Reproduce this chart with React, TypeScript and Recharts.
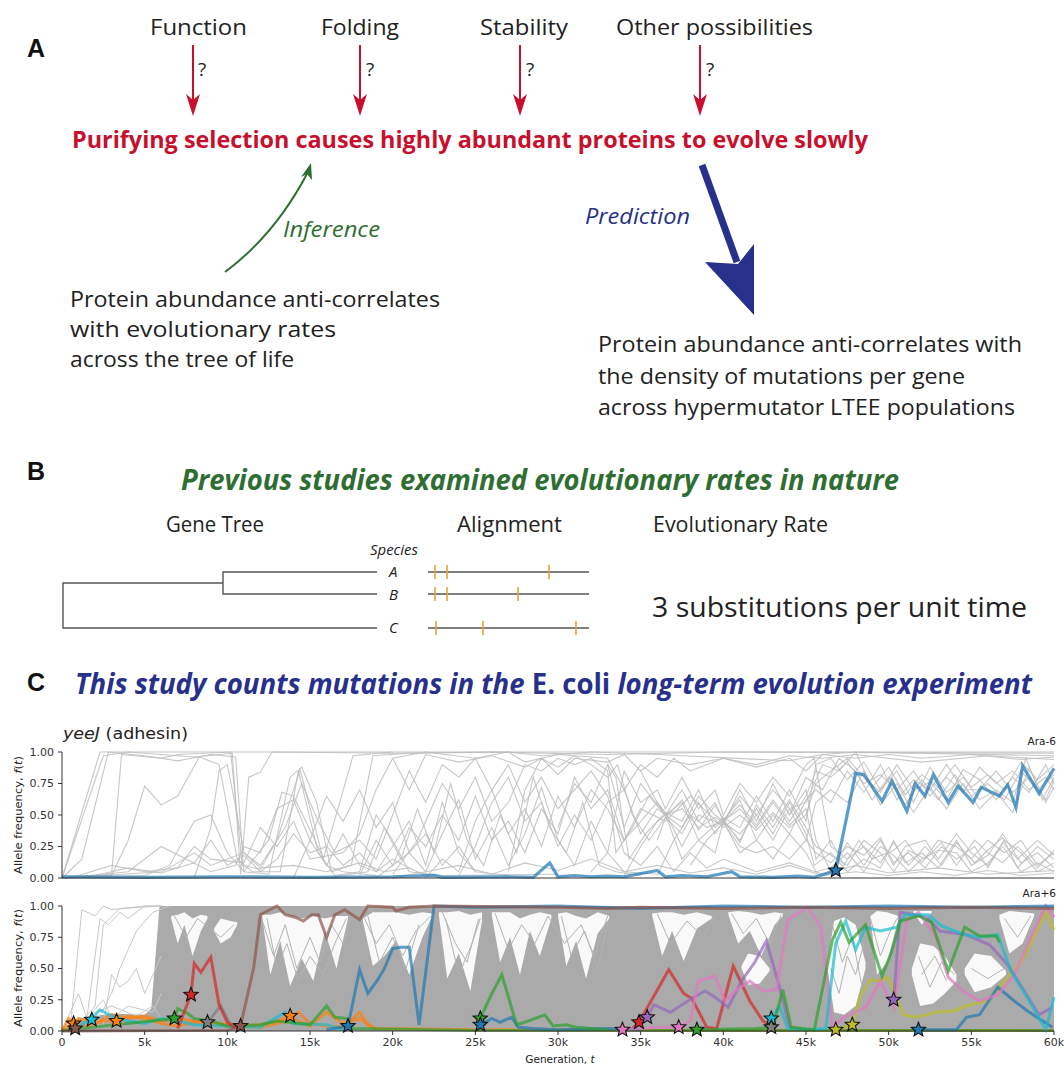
import React from "react";
import { ComposedChart, Line, Area, Scatter, XAxis, YAxis } from "recharts";

// generation ticks (thousands) and frequency ticks
const genTicks = [0, 5, 10, 15, 20, 25, 30, 35, 40, 45, 50, 55, 60];
const freqTicks = [0, 0.25, 0.5, 0.75, 1];

const C = {
  blue: "#1f77b4",
  orange: "#ff7f0e",
  green: "#2ca02c",
  red: "#d62728",
  purple: "#9467bd",
  brown: "#8c564b",
  pink: "#e377c2",
  gray: "#7f7f7f",
  olive: "#bcbd22",
  cyan: "#17becf",
};

// ---------- Ara-6 (top panel) ----------
const araM6YeeJ = [[0,0.01],[5,0.005],[10,0.01],[15,0.005],[20,0.01],[22.5,0.02],[23,0.005],[27,0.01],[28.5,0.005],[29.5,0.12],[30,0.01],[31,0.02],[32,0.01],[33,0.015],[34,0.01],[36,0.06],[36.5,0.01],[37.5,0.02],[39,0.01],[40.5,0.05],[41,0.01],[43,0.005],[44.5,0.015],[45.5,0.005],[46.8,0.06],[48,0.83],[48.5,0.82],[49.6,0.61],[50.2,0.77],[51.1,0.53],[51.6,0.75],[52.2,0.65],[52.7,0.82],[53.6,0.6],[54.2,0.73],[55.1,0.6],[55.6,0.72],[56.7,0.65],[57.2,0.74],[57.7,0.56],[58.1,0.89],[59.1,0.67],[60,0.87]];

const araM6Background = [
  [[0,0],[2.3,1],[60,1]],
  [[0,0],[2.5,0.97],[4,1],[8,0.96],[10.3,0.99],[10.8,0.03],[11.3,0.8],[12,0.84],[12.7,1],[20,0.99],[26,1],[33,0.98],[40,1],[60,0.99]],
  [[0,0],[1.2,0.15],[2.8,1],[5,0.97],[7,0.93],[9,0.98],[10.5,0.96],[11,0.05],[12.5,0.03],[13.8,0.8],[14.5,0.88],[15.4,0.6],[16.3,0.05],[17.5,0.1],[18.8,0.97],[21,0.99],[27,1],[29,0.97],[32,1],[36,0.98],[44,0.93],[46,0.98],[48,1],[60,0.97]],
  [[0,0],[3,0.02],[4,0.3],[5,0.73],[6,0.58],[7,0.65],[8.3,0.96],[9.5,0.9],[10.6,0.15],[11.5,0.05],[13.2,0.05],[14.3,0.85],[15.5,0.2],[16.5,0.02],[18,0.05],[19,0.5],[20,0.3],[21,0.05],[23,0.02],[30,0.03]],
  [[0,0],[4,0.05],[6,0.25],[7.5,0.15],[9,0.05],[10.5,0.1],[11,0.25],[12,0.2],[13,0.55],[14,0.62],[15,0.3],[16,0.1],[17,0.35],[18,0.1],[19,0.05],[21,0.45],[22,0.1],[23,0.6],[24,0.2],[25,0.05],[27,0.02]],
  [[0,0],[5,0.02],[6.5,0.1],[8,0.45],[9,0.5],[10,0.2],[11,0.05],[12.5,0.3],[13.3,0.68],[14,0.65],[15.3,0.3],[16,0.1],[17,0.05],[19,0.02]],
  [[0,0],[3,0.03],[3.6,0.98],[6,0.95],[7,0.98],[10.2,1],[10.9,0.1],[12,0.07],[13,0.3],[14.4,0.86],[15.8,0.15],[16.8,0.6],[17.6,0.97],[20,1]],
  [[0,0],[6,0.05],[7,0.12],[8,0.2],[9,0.1],[10,0.15],[11,0.2],[12,0.08],[14,0.1],[16,0.05],[18,0.12],[19.5,0.05],[21,0.08],[22,0.02]],
  [[16,0],[18.5,0.05],[19.5,0.4],[20.5,0.15],[21.5,0.55],[22.5,0.2],[23.5,0.75],[24.5,0.3],[25.5,0.1],[26.5,0.5],[27.5,0.2],[28.5,0.8],[29.5,0.4],[30.5,0.2],[31.5,0.6],[32.5,0.1],[33.5,0.05],[35,0.02]],
  [[19,0],[21,0.2],[22,0.05],[23,0.35],[24,0.62],[25,0.15],[26,0.4],[27,0.1],[28,0.35],[29,0.72],[30,0.3],[31,0.1],[32,0.45],[33,0.2],[34,0.05],[36,0.03]],
  [[20,0.03],[21.5,0.3],[23,0.75],[24,0.55],[25,0.8],[26,0.45],[27,0.6],[28,0.9],[29,0.85],[30,0.95],[31,0.9],[32,0.95],[33,0.85],[33.5,0.2],[34.5,0.4],[35.5,0.65],[36.5,0.5],[37.5,0.7],[38.5,0.45],[39.5,0.6],[40,0.45],[41,0.65],[42,0.5],[43,0.7],[44,0.55],[45,0.6],[46,0.9],[47,0.85],[48,1],[49,0.72],[50,0.88],[51,0.66],[52,0.82],[53,0.72],[54,0.9],[55,0.72],[56,0.82],[57,0.7],[58,0.92],[59,0.78],[60,0.9]],
  [[27,0.05],[28,0.7],[29,0.95],[30,0.88],[31,0.97],[32,0.9],[33,0.8],[33.6,0.9],[34.5,0.5],[35.5,0.3],[36.5,0.48],[37.5,0.35],[38.5,0.6],[39.5,0.35],[40,0.45],[41,0.3],[42,0.55],[43,0.35],[44,0.6],[45,0.35],[45.5,0.1],[46.5,0.2],[47.5,0.05],[48.5,0.15],[49.5,0.08],[50.3,0.3],[51,0.12],[52,0.2],[53,0.08],[54.1,0.3],[55,0.1],[56,0.18],[56.9,0.35],[58,0.12],[59,0.2],[60,0.08]],
  [[30,0.4],[31,0.75],[32,0.6],[33,0.9],[33.5,0.8],[34.3,0.15],[35.3,0.35],[36.5,0.52],[37.5,0.25],[38.5,0.5],[40,0.42],[41,0.7],[42,0.45],[43,0.75],[44,0.5],[45,0.8],[46,0.7],[47,0.95],[48,0.85],[49,0.62],[50,0.8],[51,0.58],[52,0.78],[53,0.62],[54,0.82],[55,0.65],[56,0.75],[57,0.62],[58,0.85],[59,0.7],[60,0.82]],
  [[32,0.05],[33,0.2],[34,0.85],[35,0.6],[36,0.7],[36.5,0.55],[37.5,0.8],[38.5,0.55],[39.5,0.7],[40,0.5],[41,0.75],[42,0.6],[43,0.8],[44,0.65],[45,0.9],[45.5,0.95],[46.5,0.25],[47.5,0.15],[48.5,0.25],[49.5,0.12],[50.3,0.28],[51.2,0.1],[52.2,0.25],[53.2,0.1],[54.1,0.28],[55.2,0.12],[56,0.22],[56.9,0.32],[57.8,0.08],[59,0.25],[60,0.15]],
  [[34,0.02],[35,0.25],[36,0.45],[36.5,0.5],[37.5,0.15],[38.5,0.3],[39.5,0.2],[40,0.45],[41,0.2],[42,0.3],[43,0.15],[44,0.35],[45,0.2],[45.6,0.05],[46.5,0.08],[47.5,0.2],[48.5,0.05],[49.5,0.25],[50.3,0.18],[51.2,0.05],[52,0.15],[53,0.22],[54.1,0.2],[55,0.05],[56,0.12],[56.9,0.25],[58,0.05],[59,0.12],[60,0.05]],
  [[33,0.9],[34,0.4],[35,0.75],[36.5,0.5],[37.5,0.6],[38.5,0.3],[40,0.48],[41,0.4],[42,0.65],[43,0.45],[44,0.7],[45,0.45],[45.6,0.9],[46.5,0.95],[47.5,0.78],[48.5,0.92],[49.5,0.7],[50.5,0.85],[51.5,0.6],[52.5,0.88],[53.5,0.68],[54.5,0.8],[55.5,0.62],[56.5,0.7],[57.5,0.6],[58.3,0.95],[59.3,0.62],[60,0.8]],
  [[36,0.02],[37,0.3],[38,0.5],[39,0.4],[40,0.45],[41,0.55],[42,0.4],[43,0.6],[44,0.42],[45,0.55],[45.6,0.15],[46.5,0.3],[47.3,0.1],[48.2,0.3],[49,0.15],[50.3,0.22],[51,0.3],[52,0.12],[53,0.3],[54.1,0.25],[55,0.15],[56,0.3],[57,0.2],[58,0.3],[59,0.1],[60,0.2]],
  [[20,0],[22,0.05],[24,0.1],[26,0.03],[28,0.12],[30,0.06],[32,0.15],[34,0.05],[36,0.1],[38,0.04],[40,0.08],[42,0.03],[44,0.1],[46,0.02],[48,0.05],[50,0.02],[52,0.05],[54,0.02],[56,0.06],[58,0.02],[60,0.04]],
  [[20,0.95],[21,0.7],[22,0.98],[24,0.92],[26,0.97],[28,0.88],[29,0.95],[30,0.82],[31,0.95],[33,0.92],[34,0.98],[35,0.85],[36,0.95],[38,0.9],[40,0.95],[42,0.88],[44,0.95],[45,0.85],[46,0.98],[48,0.95],[50,0.98],[52,0.95],[55,0.98],[58,0.94],[60,0.96]],
  [[14,0],[15,0.3],[16,0.65],[17,0.45],[18,0.7],[19,0.4],[20,0.6],[21,0.2],[22,0.35],[23,0.1],[24,0.25],[25,0.05]],
  [[22,0],[23,0.15],[24,0.05],[25,0.45],[26,0.7],[27,0.35],[28,0.55],[29,0.25],[30,0.65],[31,0.4],[32,0.7],[33,0.55],[34,0.3],[35,0.55],[36.5,0.45],[38,0.65],[40,0.4],[41,0.5],[42,0.38],[43,0.52],[44,0.4],[45,0.5],[45.6,0.75],[46.5,0.85],[47.5,0.95],[48.5,0.8],[49.5,0.68],[50.5,0.9],[51.5,0.7],[52.5,0.76],[53.5,0.62],[54.5,0.86],[55.5,0.78],[56.5,0.62],[57.5,0.8],[58.5,0.68],[59.5,0.9],[60,0.75]],
  [[44,0.5],[45,0.7],[45.6,0.3],[46.5,0.05],[47.5,0.28],[48.5,0.1],[49.5,0.3],[50.3,0.1],[51,0.25],[52.2,0.3],[53,0.15],[54.1,0.35],[55,0.2],[56,0.1],[57,0.3],[58,0.2],[59,0.05],[60,0.12]],
  [[18,0.02],[19,0.3],[20,0.1],[21,0.4],[22,0.25],[23,0.5],[24,0.3],[25,0.65],[26,0.3],[27,0.45],[28,0.2],[29,0.55],[30,0.35],[31,0.8],[32,0.55],[33,0.7],[34,0.3],[35,0.45],[36,0.6],[36.5,0.5],[37.5,0.4],[38.5,0.65],[39.5,0.5],[40,0.45],[41,0.58],[42,0.42],[43,0.62],[44,0.45],[45,0.65],[45.6,0.85],[46.5,0.8],[47.5,0.92],[48.5,0.75],[49.5,0.82],[50.5,0.7],[51.5,0.85],[52.5,0.65],[53.5,0.8],[54.5,0.68],[55.5,0.88],[56.5,0.75],[57.5,0.85],[58.5,0.7],[59.5,0.8],[60,0.7]],
  [[24,0.02],[25,0.25],[26,0.6],[27,0.8],[28,0.45],[29,0.6],[30,0.25],[31,0.5],[32,0.3],[33,0.6],[34,0.7],[35,0.35],[36,0.55],[36.5,0.5],[37.5,0.55],[38.5,0.4],[39.5,0.48],[40,0.44],[41,0.35],[42,0.5],[43,0.3],[44,0.55],[45,0.3],[45.6,0.2],[46.5,0.12],[47.5,0.25],[48.5,0.18],[49.5,0.32],[50.3,0.12],[51.2,0.2],[52.2,0.08],[53.2,0.25],[54.1,0.15],[55.2,0.25],[56,0.08],[56.9,0.28],[57.8,0.15],[59,0.3],[60,0.18]],
  [[35,0.85],[36,0.6],[36.5,0.52],[37.5,0.45],[38.5,0.7],[39.5,0.4],[40,0.46],[41,0.62],[42,0.3],[43,0.5],[44,0.35],[45,0.62],[45.6,0.7],[46.5,0.6],[47.5,0.85],[48.5,0.68],[49.5,0.9],[50.5,0.62],[51.5,0.78],[52.5,0.7],[53.5,0.9],[54.5,0.7],[55.5,0.7],[56.5,0.85],[57.5,0.68],[58.5,0.8],[59.5,0.62],[60,0.78]],
  [[36,0.3],[36.5,0.48],[37.5,0.62],[38.5,0.38],[39.5,0.58],[40,0.47],[41,0.28],[42,0.58],[43,0.4],[44,0.62],[45,0.4],[45.6,0.25],[46.5,0.18],[47.5,0.1],[48.5,0.3],[49.5,0.2],[50.3,0.05],[51.2,0.22],[52.2,0.15],[53.2,0.28],[54.1,0.1],[55.2,0.3],[56,0.2],[56.9,0.12],[57.8,0.25],[59,0.08],[60,0.22]],
  [[0,0],[2,0.02],[4,0.08],[6,0.04],[8,0.12],[9,0.3],[10,0.1],[11,0.18],[12,0.05],[13,0.15],[14,0.35],[15,0.2],[16,0.25],[17,0.1],[18,0.2],[19,0.05],[20,0.15],[21,0.08]],
  [[0,0],[1,0.02],[3,0.1],[5,0.05],[7,0.08],[8,0.25],[9,0.15],[11,0.12],[12,0.4],[13,0.25],[14,0.45],[15,0.15],[17,0.2],[18,0.35],[19,0.7],[20,0.95],[22,1],[25,0.95],[27,1],[28,0.92],[30,0.98],[33,0.95],[34,0.7],[35,0.9],[36,0.8],[37,0.95],[38,0.85],[40,0.95],[42,0.9],[44,0.97],[46,0.95],[48,0.98],[52,0.92],[56,0.97],[60,0.94]],
  [[8,0],[9,0.4],[9.5,0.85],[10,0.9],[10.6,0.5],[11,0.2],[12,0.1],[13.5,0.4],[14.5,0.75],[15.5,0.45],[16.5,0.2],[18,0.3],[19,0.15],[20,0.5],[21,0.85],[22,0.6],[23,0.9],[24,0.8],[25,0.95],[26,0.7],[27,0.9],[28,0.6],[29,0.8],[30,0.55],[31,0.7],[32,0.85],[33,0.65],[34,0.2],[35,0.1],[36,0.25],[37,0.05],[38,0.2],[39,0.08],[40,0.15],[42,0.05],[44,0.12],[46,0.03],[48,0.1],[50,0.04],[53,0.08],[56,0.03],[60,0.06]],
  [[38,0.1],[39,0.3],[40,0.44],[41,0.25],[42,0.2],[43,0.25],[44,0.15],[45,0.3],[45.6,0.6],[46.5,0.7],[47.5,0.6],[48.5,0.85],[49.5,0.58],[50.5,0.75],[51.5,0.52],[52.5,0.72],[53.5,0.55],[54.5,0.75],[55.5,0.55],[56.5,0.68],[57.5,0.52],[58.5,0.88],[59.5,0.6],[60,0.72]],
];

const araM6Stars = [{ t: 46.8, f: 0.06, c: C.blue }];

// ---------- Ara+6 (bottom panel) ----------
const araP6EarlyGray = [
  [[0,0],[0.5,0.02],[1.2,0.97],[2,0.92],[2.5,1],[3,0.97],[5,1],[6,1]],
  [[0,0],[1,0.05],[2,0.2],[2.5,0.85],[3.5,0.98],[6,1]],
  [[0,0],[1.5,0.1],[2.3,0.9],[2.8,0.85],[3.5,0.95],[4,0.9],[5,1],[6,1]],
  [[0,0],[2,0.05],[3,0.3],[3.5,0.5],[4.5,0.8],[5.5,0.95],[6.5,1]],
  [[0,0],[2.5,0.05],[3,0.45],[3.5,0.35],[4,0.4],[4.5,0.5],[5,0.3],[6,0.6]],
  [[0,0],[1,0.3],[1.5,0.1],[2.5,0.25],[3,0.1],[4,0.2],[5.5,0.15],[6,0.3]],
  [[0,0],[0.8,0.05],[2,0.15],[3,0.2],[4.5,0.12],[5.5,0.2],[6,0.1]],
];

// dense envelope of the many background trajectories: [t, low, high]
const araP6Mass = [[0.3,0,0.01],[1,0,0.1],[3,0,0.14],[5,0,0.13],[5.4,0,0.18],[5.9,0,1],[60,0,1]];

// gaps inside the dense envelope: [t, low, high]
const araP6Gaps = [
  [[6.6,0.9,0.92],[7.0,0.7,0.93],[7.4,0.85,0.95],[7.9,0.6,0.9],[8.4,0.8,0.93],[8.8,0.9,0.92]],
  [[9.2,0.8,0.82],[9.6,0.7,0.9],[10.2,0.75,0.88],[10.6,0.85,0.87]],
  [[12.1,0.92,0.93],[12.6,0.45,0.93],[13.2,0.72,0.95],[13.8,0.36,0.92],[14.5,0.58,0.9],[15.2,0.4,0.92],[15.9,0.8,0.9],[16.6,0.5,0.92],[17.3,0.9,0.92]],
  [[18.2,0.88,0.9],[18.8,0.52,0.95],[19.5,0.6,0.95],[20.2,0.72,0.95],[21,0.45,0.93],[21.8,0.75,0.95],[22.4,0.92,0.94]],
  [[22.8,0.92,0.95],[23.3,0.42,0.95],[24,0.62,0.96],[24.7,0.32,0.93],[25.4,0.88,0.95]],
  [[26,0.92,0.95],[26.5,0.55,0.95],[27.1,0.75,0.95],[27.7,0.45,0.9],[28.3,0.8,0.93],[28.9,0.6,0.95],[29.6,0.9,0.93]],
  [[30,0.92,0.94],[30.5,0.52,0.95],[31.1,0.72,0.92],[31.7,0.42,0.9],[32.4,0.78,0.95],[33.1,0.9,0.92]],
  [[35.7,0.92,0.94],[36.3,0.6,0.95],[36.9,0.8,0.95],[37.6,0.56,0.93],[38.4,0.82,0.95],[39.3,0.9,0.92]],
  [[40.3,0.93,0.95],[40.9,0.7,0.96],[41.6,0.8,0.95],[42.3,0.6,0.93],[43.1,0.85,0.95],[43.6,0.92,0.94]],
  [[41.1,0.5,0.52],[41.5,0.37,0.62],[42.2,0.38,0.6],[42.8,0.48,0.5]],
  [[46.3,0.5,0.55],[46.7,0.15,0.88],[47.3,0.13,0.91],[48,0.2,0.85],[48.6,0.5,0.55]],
  [[48.9,0.9,0.92],[49.3,0.45,0.96],[49.9,0.55,0.95],[50.6,0.9,0.92]],
  [[51.4,0.45,0.5],[51.9,0.2,0.7],[52.7,0.22,0.68],[53.4,0.3,0.6],[54.1,0.4,0.45]],
  [[51.5,0.95,0.96],[52,0.85,0.96],[52.6,0.95,0.96]],
  [[54.6,0.45,0.5],[55.2,0.31,0.62],[56.2,0.35,0.6],[57.1,0.45,0.48]],
  [[56.7,0.9,0.93],[57.3,0.62,0.96],[58.1,0.7,0.95],[58.8,0.92,0.94]],
];

// background trajectories crossing the gaps
const araP6GapTraces = [
  [[12,0.93],[12.8,0.6],[13.5,0.85],[14.2,0.5],[15,0.75],[15.6,0.55],[16.3,0.85],[17,0.7],[17.5,0.93]],
  [[12.4,0.9],[13,0.5],[13.6,0.7],[14.3,0.4],[15,0.6],[15.8,0.45],[16.5,0.7],[17.2,0.9]],
  [[18.3,0.9],[19,0.7],[19.8,0.85],[20.6,0.6],[21.4,0.8],[22.3,0.92]],
  [[18.5,0.92],[19.2,0.55],[20,0.75],[20.8,0.5],[21.6,0.85]],
  [[23,0.95],[23.8,0.7],[24.5,0.55],[25.2,0.9]],
  [[23.2,0.9],[24,0.45],[24.8,0.7],[25.3,0.9]],
  [[26.2,0.94],[27,0.65],[27.8,0.85],[28.6,0.7],[29.4,0.92],[30.4,0.7],[31.4,0.85],[32.2,0.6],[33,0.92]],
  [[30.2,0.92],[30.8,0.6],[31.6,0.8],[32.4,0.5],[33,0.85]],
  [[36,0.94],[36.8,0.7],[37.8,0.88],[38.8,0.75],[39.5,0.93]],
  [[40.5,0.94],[41.2,0.78],[42,0.9],[42.8,0.7],[43.5,0.93]],
  [[46.5,0.5],[47,0.3],[47.5,0.6],[48,0.45],[48.5,0.7]],
  [[46.6,0.85],[47.2,0.55],[47.8,0.75],[48.4,0.35]],
  [[48.9,0.9],[49.5,0.6],[50.1,0.8],[50.6,0.92]],
  [[51.8,0.6],[52.5,0.35],[53.2,0.55],[54,0.45]],
  [[52,0.45],[52.8,0.6],[53.5,0.4]],
  [[55,0.5],[56,0.42],[57,0.5]],
  [[57,0.9],[57.8,0.75],[58.6,0.92]],
  [[6.8,0.92],[7.5,0.75],[8.2,0.9],[9.6,0.75],[10.4,0.85]],
];

const araP6Brown = [[0,0],[10,0.005],[10.8,0.04],[11.6,0.51],[12,0.93],[13,1],[13.5,0.93],[14.1,0.91],[14.6,0.88],[15.1,0.93],[15.5,0.93],[16,0.75],[16.5,0.93],[17.1,0.97],[18,0.89],[18.5,1],[20,0.99],[20.2,0.96],[21,0.99],[22.5,1],[30,0.99],[33,0.98],[35,0.99],[40,0.98],[45,0.99],[50,0.98],[55,0.99],[60,0.98]];
const araP6BlueA = [[16,0.01],[17.3,0.04],[18,0.49],[18.5,0.3],[19.1,0.41],[19.5,0.5],[20,0.66],[20.5,0.67],[21,0.67],[21.6,0.05],[22.5,1],[25,0.99],[30,1],[35,0.98],[40,1],[45,0.99],[50,1],[55,0.99],[60,1]];
const araP6BlueB = [[25.3,0.05],[26,0.1],[26.5,0.07],[27.2,0.11],[27.6,0.03],[28.5,0.02],[30,0.01],[33,0.02],[35,0.01]];
const araP6BlueC = [[51.8,0.01],[54.1,0.01],[54.7,0.11],[55.5,0.13],[56.6,0.35],[57.6,0.24],[58.4,0.16],[59.9,0.03]];
const araP6RedA = [[7,0.02],[7.8,0.29],[8,0.54],[8.4,0.47],[9,0.59],[9.5,0.21],[10,0.07],[10.5,0.02]];
const araP6RedB = [[34.5,0.02],[34.9,0.07],[35.2,0.14],[36.7,0.49],[37.6,0.3],[38.1,0.26],[39,0.03],[39.6,0.02],[40.6,0.52],[41.6,0.24],[42.4,0.08],[43.2,0.02]];
const araP6OrangeA = [[0,0],[0.4,0.1],[0.8,0.06],[1.5,0.04],[2.5,0.08],[3.3,0.08],[4,0.12],[5,0.1],[6,0.06],[7,0.04],[8,0.07],[9,0.05],[10,0.06],[11,0.04],[12,0.05],[13,0.08],[13.8,0.12],[14.3,0.15],[15,0.06],[16,0.04],[17,0.03],[18,0.15],[18.5,0.05],[19,0.02],[25,0.01],[40,0.005],[60,0.005]];
const araP6OrangeB = [[0,0],[1,0.1],[2,0.06],[3,0.13],[4,0.1],[5,0.12],[6,0.08],[7,0.1],[8,0.08],[9,0.06],[10,0.04],[12,0.03],[13,0.06],[14,0.1],[15,0.04],[16,0.15],[17,0.06],[18,0.1],[19,0.01]];
const araP6CyanA = [[0.8,0.02],[1.8,0.1],[2.3,0.17],[3,0.12],[4,0.08],[5,0.06],[6,0.1],[7,0.08],[8,0.05],[10,0.04],[12,0.03],[13.5,0.15],[14,0.06],[16,0.05],[17,0.01]];
const araP6CyanB = [[42.9,0.1],[43.4,0.2],[43.9,0.02],[45,0.01],[46.2,0.02],[46.8,0.7],[47.4,0.88],[48,0.65],[48.6,0.83],[49.5,0.8],[50.5,0.83],[51,0.93],[52.4,0.93],[53.2,0.84],[54.6,0.77],[55.5,0.75],[56.6,0.77],[57.4,0.48],[58.5,0.24],[59.5,0.01],[60,0.27]];
const araP6GreenA = [[0,0.005],[6.8,0.1],[7,0.18],[7.6,0.14],[8,0.1],[9,0.08],[10,0.04],[12,0.05],[13,0.08],[15,0.05],[16,0.2],[16.5,0.11],[17.2,0.1],[17.6,0.02],[25,0.005],[60,0.005]];
const araP6GreenB = [[25.3,0.1],[26,0.3],[26.6,0.45],[27.5,0.05],[28.2,0.08],[29.2,0.13],[29.7,0.04],[30.5,0.05],[31.1,0.03],[33,0.01]];
const araP6GreenC = [[38.4,0.01],[42,0.02],[43,0.03],[43.6,0.33],[44.1,0.03],[45.5,0.01],[46.6,0.73],[47.1,0.87],[47.6,0.71],[48.6,0.85],[49.6,0.44],[50.2,0.64],[50.7,0.88],[51.8,0.92],[52.6,0.87],[53.6,0.48],[54.6,0.83],[55.5,0.76],[56.5,0.76],[56.7,0.71]];
const araP6PurpleA = [[35.4,0.11],[35.8,0.21],[36.8,0.15],[38.2,0.27],[38.9,0.32],[39.5,0.27],[40.3,0.19],[41.1,0.4],[41.9,0.55],[42.6,0.72],[43.3,0.4],[44,0.03],[45,0.01]];
const araP6PurpleB = [[50.3,0.25],[50.7,0.95],[51.6,0.93],[52.3,0.91],[53.1,0.8],[54.7,0.77],[56.1,0.69],[57.2,0.53],[58.2,0.32],[59.1,0.13],[59.9,0.19]];
const araP6Pink = [[33.9,0.01],[35,0.02],[36,0.03],[37.3,0.03],[38,0.08],[38.5,0.4],[39.5,0.44],[40.1,0.24],[40.8,0.33],[41.6,0.4],[42.4,0.32],[43.2,0.33],[43.9,0.89],[45.1,0.99],[45.9,0.83],[46.6,0.03],[47.3,0.11],[48.6,0.19],[49.5,0.4],[50.3,0.19],[51.1,0.88],[51.8,0.95],[52.8,0.77],[53.6,0.43],[54.5,0.32],[55.5,0.24],[56.6,0.29],[57.6,0.45],[58.6,0.75],[59.5,1],[60,0.91]];
const araP6Olive = [[46.8,0.01],[47.8,0.05],[48.3,0.29],[48.9,0.41],[49.5,0.4],[50,0.43],[50.3,0.32],[50.9,0.13],[51.6,0.11],[52.3,0.13],[52.8,0.15],[53.9,0.16],[54.9,0.21],[56,0.24],[57,0.4],[58.2,0.59],[59.5,0.95],[60,0.81]];
const araP6GrayA = [[8.8,0.07],[9.6,0.2],[10.2,0.05],[10.8,0.02]];

const araP6Focal = [
  { pts: araP6OrangeA, c: C.orange },
  { pts: araP6OrangeB, c: C.orange },
  { pts: araP6CyanA, c: C.cyan },
  { pts: araP6GreenA, c: C.green },
  { pts: araP6GrayA, c: C.gray },
  { pts: araP6RedA, c: C.red },
  { pts: araP6BlueB, c: C.blue },
  { pts: araP6GreenB, c: C.green },
  { pts: araP6RedB, c: C.red },
  { pts: araP6PurpleA, c: C.purple },
  { pts: araP6Olive, c: C.olive },
  { pts: araP6BlueC, c: C.blue },
  { pts: araP6Pink, c: C.pink },
  { pts: araP6PurpleB, c: C.purple },
  { pts: araP6CyanB, c: C.cyan },
  { pts: araP6GreenC, c: C.green },
  { pts: araP6BlueA, c: C.blue },
  { pts: araP6Brown, c: C.brown },
];

const araP6Stars = [
  { t: 0.7, f: 0.06, c: C.orange },
  { t: 0.8, f: 0.02, c: C.brown },
  { t: 1.8, f: 0.09, c: C.cyan },
  { t: 3.3, f: 0.08, c: C.orange },
  { t: 6.8, f: 0.1, c: C.green },
  { t: 7.8, f: 0.29, c: C.red },
  { t: 8.8, f: 0.07, c: C.gray },
  { t: 10.8, f: 0.04, c: C.brown },
  { t: 13.8, f: 0.12, c: C.orange },
  { t: 17.3, f: 0.04, c: C.blue },
  { t: 25.3, f: 0.1, c: C.green },
  { t: 25.3, f: 0.05, c: C.blue },
  { t: 33.9, f: 0.01, c: C.pink },
  { t: 34.9, f: 0.07, c: C.red },
  { t: 35.4, f: 0.11, c: C.purple },
  { t: 37.3, f: 0.03, c: C.pink },
  { t: 38.4, f: 0.01, c: C.green },
  { t: 42.9, f: 0.1, c: C.cyan },
  { t: 42.9, f: 0.03, c: C.gray },
  { t: 46.8, f: 0.01, c: C.olive },
  { t: 47.8, f: 0.05, c: C.olive },
  { t: 50.3, f: 0.25, c: C.purple },
  { t: 51.8, f: 0.01, c: C.blue },
];

const toPts = (tr: number[][]) => tr.map(([t, f]) => ({ t, f }));
const toRange = (tr: number[][]) => tr.map(([t, lo, hi]) => ({ t, r: [lo, hi] }));

const axisFont = { fontFamily: "DejaVu Sans", fontSize: 11, fill: "#333" };
const myriad = "'Open Sans', 'Noto Sans', sans-serif";

function StarMark(props: any) {
  const { cx, cy, payload } = props;
  if (cx == null || cy == null) return null;
  const pts: string[] = [];
  for (let i = 0; i < 10; i++) {
    const a = -Math.PI / 2 + (i * Math.PI) / 5;
    const rad = i % 2 === 0 ? 7.5 : 3.3;
    pts.push(`${cx + rad * Math.cos(a)},${cy + rad * Math.sin(a)}`);
  }
  return <polygon points={pts.join(" ")} fill={payload.c} stroke="#111" strokeWidth={1.1} />;
}

function TopChart() {
  return (
    <ComposedChart width={1064} height={146} margin={{ top: 12, right: 10, bottom: 0, left: 0 }}>
      <XAxis
        dataKey="t"
        type="number"
        domain={[0, 60]}
        ticks={genTicks}
        tick={false}
        tickSize={4}
        height={8}
        stroke="#333"
      />
      <YAxis
        type="number"
        domain={[0, 1]}
        ticks={freqTicks}
        tickFormatter={(v: number) => v.toFixed(2)}
        tick={axisFont}
        tickSize={4}
        tickMargin={4}
        width={62}
        stroke="#333"
      />
      {araM6Background.map((tr, i) => (
        <Line
          key={`g${i}`}
          data={toPts(tr)}
          dataKey="f"
          type="linear"
          stroke="#bdbdbd"
          strokeOpacity={0.85}
          strokeWidth={1.1}
          dot={false}
          isAnimationActive={false}
        />
      ))}
      <Line
        data={toPts(araM6YeeJ)}
        dataKey="f"
        type="linear"
        stroke={C.blue}
        strokeOpacity={0.72}
        strokeWidth={3.2}
        dot={false}
        isAnimationActive={false}
      />
      <Scatter data={araM6Stars} dataKey="f" shape={StarMark} isAnimationActive={false} />
    </ComposedChart>
  );
}

function BottomChart() {
  return (
    <ComposedChart width={1064} height={160} margin={{ top: 12, right: 10, bottom: 0, left: 0 }}>
      <XAxis
        dataKey="t"
        type="number"
        domain={[0, 60]}
        ticks={genTicks}
        tickFormatter={(v: number) => (v === 0 ? "0" : `${v}k`)}
        tick={axisFont}
        tickSize={4}
        tickMargin={3}
        height={23}
        stroke="#333"
      />
      <YAxis
        type="number"
        domain={[0, 1]}
        ticks={freqTicks}
        tickFormatter={(v: number) => v.toFixed(2)}
        tick={axisFont}
        tickSize={4}
        tickMargin={4}
        width={62}
        stroke="#333"
      />
      <Area
        data={toRange(araP6Mass)}
        dataKey="r"
        type="linear"
        stroke="none"
        fill="#aaaaaa"
        fillOpacity={1}
        isAnimationActive={false}
      />
      {araP6Gaps.map((tr, i) => (
        <Area
          key={`h${i}`}
          data={toRange(tr)}
          dataKey="r"
          type="linear"
          stroke="none"
          fill="#ffffff"
          fillOpacity={0.93}
          isAnimationActive={false}
        />
      ))}
      {araP6EarlyGray.map((tr, i) => (
        <Line
          key={`e${i}`}
          data={toPts(tr)}
          dataKey="f"
          type="linear"
          stroke="#c8c8c8"
          strokeWidth={1}
          dot={false}
          isAnimationActive={false}
        />
      ))}
      {araP6GapTraces.map((tr, i) => (
        <Line
          key={`x${i}`}
          data={toPts(tr)}
          dataKey="f"
          type="linear"
          stroke="#b3b3b3"
          strokeWidth={1}
          dot={false}
          isAnimationActive={false}
        />
      ))}
      {araP6Focal.map((s, i) => (
        <Line
          key={`c${i}`}
          data={toPts(s.pts)}
          dataKey="f"
          type="linear"
          stroke={s.c}
          strokeOpacity={0.7}
          strokeWidth={3}
          dot={false}
          isAnimationActive={false}
        />
      ))}
      <Scatter data={araP6Stars} dataKey="f" shape={StarMark} isAnimationActive={false} />
    </ComposedChart>
  );
}

function Overlay() {
  const red = "#c8102e";
  const green = "#2f6e33";
  const navy = "#27318b";
  const arrowXs = [193, 360, 520, 700];
  const qXs = [198, 366, 526, 706];
  return (
    <svg width={1064} height={1067} style={{ position: "absolute", left: 0, top: 0, pointerEvents: "none" }}>
      {/* panel letters */}
      <g fontFamily="'Liberation Sans', Arial, sans-serif" fontWeight="bold" fontSize={25} fill="#111">
        <text x={27} y={57}>A</text>
        <text x={27} y={480}>B</text>
        <text x={27} y={691}>C</text>
      </g>

      {/* panel A */}
      <g fontFamily={myriad} fontSize={22} fill="#222">
        <text x={150} y={35} textLength={97} lengthAdjust="spacingAndGlyphs">Function</text>
        <text x={321} y={35} textLength={78} lengthAdjust="spacingAndGlyphs">Folding</text>
        <text x={480} y={35} textLength={88} lengthAdjust="spacingAndGlyphs">Stability</text>
        <text x={616} y={35} textLength={197} lengthAdjust="spacingAndGlyphs">Other possibilities</text>
        {qXs.map((x) => (
          <text key={x} x={x} y={76} fontSize={19}>?</text>
        ))}
      </g>
      {arrowXs.map((x) => (
        <g key={x}>
          <line x1={x} y1={45} x2={x} y2={101} stroke={red} strokeWidth={2} />
          <polygon points={`${x},116 ${x - 7},94 ${x},100 ${x + 7},94`} fill={red} />
        </g>
      ))}
      <text x={72} y={148} fontFamily={myriad} fontWeight="bold" fontSize={23} fill={red} textLength={796} lengthAdjust="spacingAndGlyphs">
        Purifying selection causes highly abundant proteins to evolve slowly
      </text>

      <path d="M225,272 Q275,235 308,172" stroke={green} strokeWidth={2} fill="none" />
      <polygon points="311,163 312,180 307,174 301,177" fill={green} />
      <text x={283} y={237} fontFamily={myriad} fontStyle="italic" fontSize={21} fill={green} textLength={97} lengthAdjust="spacingAndGlyphs">Inference</text>

      <line x1={702} y1={165} x2={737} y2={262} stroke={navy} strokeWidth={7} />
      <polygon points="754,315 705,262 738,264 754,244" fill={navy} />
      <text x={585} y={224} fontFamily={myriad} fontStyle="italic" fontSize={21} fill={navy} textLength={105} lengthAdjust="spacingAndGlyphs">Prediction</text>

      <g fontFamily={myriad} fontSize={22} fill="#222">
        <text x={70} y={307} textLength={370} lengthAdjust="spacingAndGlyphs">Protein abundance anti-correlates</text>
        <text x={70} y={337} textLength={266} lengthAdjust="spacingAndGlyphs">with evolutionary rates</text>
        <text x={70} y={367} textLength={224} lengthAdjust="spacingAndGlyphs">across the tree of life</text>
        <text x={598} y={352} textLength={424} lengthAdjust="spacingAndGlyphs">Protein abundance anti-correlates with</text>
        <text x={598} y={384} textLength={367} lengthAdjust="spacingAndGlyphs">the density of mutations per gene</text>
        <text x={598} y={415} textLength={417} lengthAdjust="spacingAndGlyphs">across hypermutator LTEE populations</text>
      </g>

      {/* panel B */}
      <text x={181} y={490} fontFamily={myriad} fontWeight="bold" fontStyle="italic" fontSize={28} fill={green} textLength={718} lengthAdjust="spacingAndGlyphs">
        Previous studies examined evolutionary rates in nature
      </text>
      <g fontFamily={myriad} fontSize={21} fill="#222">
        <text x={166} y={532} textLength={98} lengthAdjust="spacingAndGlyphs">Gene Tree</text>
        <text x={457} y={532} textLength={105} lengthAdjust="spacingAndGlyphs">Alignment</text>
        <text x={653} y={532} textLength={175} lengthAdjust="spacingAndGlyphs">Evolutionary Rate</text>
        <text x={652} y={617} fontSize={27} textLength={375} lengthAdjust="spacingAndGlyphs">3 substitutions per unit time</text>
      </g>
      <g fontFamily={myriad} fontStyle="italic" fill="#222">
        <text x={370} y={555} fontSize={14} textLength={48} lengthAdjust="spacingAndGlyphs">Species</text>
        <text x={389} y={577} fontSize={15}>A</text>
        <text x={389} y={600} fontSize={15}>B</text>
        <text x={389} y={633} fontSize={15}>C</text>
      </g>
      <g stroke="#555" strokeWidth={1.4} fill="none">
        <polyline points="377,572 223,572 223,594 377,594" />
        <polyline points="223,583 63,583 63,628 377,628" />
        <line x1={428} y1={572} x2={589} y2={572} />
        <line x1={428} y1={594} x2={589} y2={594} />
        <line x1={428} y1={628} x2={589} y2={628} />
      </g>
      <g stroke="#e8a23a" strokeWidth={1.6}>
        {[[435, 572], [447, 572], [549, 572], [435, 594], [447, 594], [518, 594], [436, 628], [483, 628], [576, 628]].map(([x, y], i) => (
          <line key={i} x1={x} y1={y - 7} x2={x} y2={y + 7} />
        ))}
      </g>

      {/* panel C */}
      <text x={75} y={694} fontFamily={myriad} fontWeight="bold" fontStyle="italic" fontSize={28} fill={navy} textLength={957} lengthAdjust="spacingAndGlyphs">
        This study counts mutations in the <tspan fontStyle="normal">E. coli</tspan> long-term evolution experiment
      </text>
      <text x={63} y={739} fontFamily="DejaVu Sans" fontSize={15.5} fill="#222" textLength={125} lengthAdjust="spacingAndGlyphs">
        <tspan fontStyle="italic">yeeJ</tspan> (adhesin)
      </text>
      <g fontFamily="DejaVu Sans" fontSize={10.5} fill="#222" textAnchor="end">
        <text x={1056} y={745}>Ara-6</text>
        <text x={1056} y={897}>Ara+6</text>
      </g>
      <g fontFamily="DejaVu Sans" fontSize={10.5} fill="#222" textAnchor="middle">
        <text transform="translate(22,815) rotate(-90)" textLength={118} lengthAdjust="spacingAndGlyphs">
          Allele frequency, <tspan fontStyle="italic">f</tspan>(<tspan fontStyle="italic">t</tspan>)
        </text>
        <text transform="translate(22,968) rotate(-90)" textLength={118} lengthAdjust="spacingAndGlyphs">
          Allele frequency, <tspan fontStyle="italic">f</tspan>(<tspan fontStyle="italic">t</tspan>)
        </text>
        <text x={560} y={1063}>
          Generation, <tspan fontStyle="italic">t</tspan>
        </text>
      </g>
    </svg>
  );
}

export default function App() {
  return (
    <div style={{ position: "absolute", left: 0, top: 0, width: 1064, height: 1067, background: "#fff", overflow: "hidden" }}>
      <div style={{ position: "absolute", left: 0, top: 740 }}>
        <TopChart />
      </div>
      <div style={{ position: "absolute", left: 0, top: 894 }}>
        <BottomChart />
      </div>
      <Overlay />
    </div>
  );
}
